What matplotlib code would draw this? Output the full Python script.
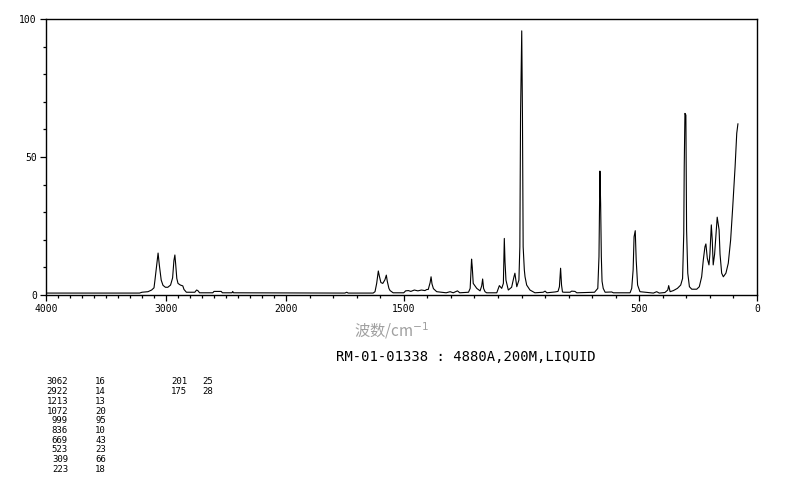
import numpy as np
import matplotlib
matplotlib.use("Agg")
import matplotlib.pyplot as plt
from matplotlib.ticker import FixedLocator

# traced spectrum: wavenumber (cm-1) and relative intensity
wavenumber = [
    4000, 3220, 3200, 3150, 3120, 3100, 3092, 3080, 3066, 3056, 3040, 3025,
    3005, 2985, 2962, 2945, 2934, 2926, 2920, 2910, 2900, 2880, 2860, 2850,
    2830, 2760, 2745, 2735, 2720, 2610, 2600, 2540, 2530, 2450, 2444, 2438,
    1750, 1742, 1736, 1630, 1622, 1615, 1608, 1604, 1597, 1589, 1580, 1574,
    1570, 1563, 1558, 1545, 1500, 1492, 1480, 1470, 1455, 1440, 1425, 1410,
    1402, 1396, 1388, 1384, 1380, 1374, 1360, 1320, 1303, 1290, 1272, 1262,
    1225, 1218, 1215, 1212, 1209, 1205, 1190, 1176, 1169, 1165, 1161, 1155,
    1148, 1105, 1094, 1084, 1077, 1073, 1070, 1066, 1056, 1042, 1032, 1028,
    1020, 1011, 1007, 1004, 999, 996, 993, 988, 985, 978, 964, 943,
    908, 900, 892, 858, 845, 839, 834, 830, 826, 820, 794, 787,
    773, 765, 690, 676, 671, 667, 664, 661, 658, 653, 645, 617,
    610, 539, 532, 526, 522, 517, 513, 507, 497, 440, 426, 415,
    391, 379, 375, 369, 355, 338, 324, 316, 311, 309, 306, 302,
    299, 294, 287, 277, 256, 245, 235, 228, 221, 217, 211, 204,
    200, 194, 190, 186, 180, 175, 169, 161, 157, 150, 143, 132,
    122, 112, 103, 93, 86, 81,
]
intensity = [
    0.7, 0.7, 1.0, 1.2, 1.8, 2.6, 5.4, 10.0, 15.2, 11.0, 5.4, 3.5,
    2.8, 2.8, 3.6, 6.2, 12.5, 14.5, 11.5, 6.0, 4.2, 3.6, 3.3, 2.0,
    1.0, 1.0, 1.8, 1.6, 0.8, 0.8, 1.3, 1.3, 0.8, 0.8, 1.3, 0.8,
    0.7, 1.0, 0.7, 0.7, 1.2, 4.2, 8.7, 7.0, 4.5, 4.2, 5.5, 7.2,
    5.0, 2.4, 1.6, 0.8, 0.8, 1.5, 1.6, 1.3, 1.8, 1.5, 1.8, 1.6,
    2.0, 2.0, 4.5, 6.6, 4.0, 2.3, 1.2, 0.8, 1.2, 0.8, 1.5, 0.8,
    1.0, 2.4, 7.9, 13.0, 10.0, 4.2, 2.4, 1.5, 3.3, 5.8, 2.4, 1.2,
    0.8, 0.8, 3.4, 2.4, 4.2, 20.5, 12.0, 5.4, 1.8, 2.8, 6.6, 7.9,
    3.0, 5.4, 17.5, 65.8, 95.7, 65.8, 17.5, 9.1, 6.6, 3.6, 1.8, 0.8,
    1.0, 1.4, 0.8, 1.1, 1.3, 3.0, 9.7, 3.6, 1.1, 1.0, 1.0, 1.4,
    1.3, 0.8, 1.0, 2.4, 13.9, 44.9, 33.2, 13.9, 5.0, 2.4, 1.0, 1.1,
    0.8, 0.8, 2.4, 9.1, 21.1, 23.3, 12.7, 3.6, 1.2, 0.7, 1.2, 0.7,
    0.9, 1.8, 3.4, 1.2, 1.6, 2.4, 3.6, 6.0, 22.3, 46.5, 65.8, 65.2,
    23.6, 7.9, 3.0, 2.1, 2.1, 3.0, 6.6, 12.7, 17.5, 18.5, 13.3, 10.9,
    14.8, 25.4, 19.9, 10.9, 14.8, 21.1, 28.2, 23.6, 14.8, 7.9, 6.6, 7.9,
    11.5, 19.9, 32.0, 46.5, 58.6, 62.0,
]

peak_wn = ["3062", "2922", "1213", "1072", "999", "836", "669", "523", "309", "223"]
peak_int = ["16", "14", "13", "20", "95", "10", "43", "23", "66", "18"]
peak_wn2 = ["201", "175"]
peak_int2 = ["25", "28"]

xticks_major = [4000, 3000, 2000, 1500, 500, 0]
yticks_major = [0, 50, 100]

W, H = 794, 482


# broken x axis: 4000-2000 compressed, 2000-0 about twice as wide
def fwd(x):
    x = np.asarray(x, dtype=float)
    return np.where(x <= 2000, x * 0.2355, 471 + (x - 2000) * 0.12)


def inv(u):
    u = np.asarray(u, dtype=float)
    return np.where(u <= 471, u / 0.2355, 2000 + (u - 471) / 0.12)


fig = plt.figure(figsize=(W / 100, H / 100), dpi=100)
ax = fig.add_axes([46 / W, 1 - 295 / H, (757 - 46) / W, (295 - 19) / H])
ax.set_xscale("function", functions=(fwd, inv))
ax.plot(wavenumber, intensity, color="black", lw=0.8)
ax.set_xlim(4000, 0)
ax.set_ylim(0, 100)

mono = "DejaVu Sans Mono"
ax.xaxis.set_major_locator(FixedLocator(xticks_major))
ax.xaxis.set_minor_locator(FixedLocator([v for v in range(0, 4001, 100) if v not in xticks_major]))
ax.set_xticklabels([str(v) for v in xticks_major], fontsize=7, family=mono)
ax.yaxis.set_major_locator(FixedLocator(yticks_major))
ax.yaxis.set_minor_locator(FixedLocator(list(range(10, 100, 10))))
ax.set_yticklabels([str(v) for v in yticks_major], fontsize=7, family=mono)
ax.tick_params(axis="both", which="major", direction="out", length=4.5, width=0.9, pad=2)
ax.tick_params(axis="both", which="minor", direction="out", length=2.2, width=0.9)
for s in ax.spines.values():
    s.set_linewidth(1.0)

fig.text(392 / W, 1 - 331 / H, "波数/cm$^{-1}$", color="#a0a0a0", fontsize=11,
         family=["Noto Sans CJK SC", "DejaVu Sans"], ha="center", va="center")
fig.text(466 / W, 1 - 357 / H, "RM-01-01338 : 4880A,200M,LIQUID", fontsize=10,
         family=mono, ha="center", va="center")

row0, dy = 382, 9.67
for i, (a, b) in enumerate(zip(peak_wn, peak_int)):
    y = 1 - (row0 + i * dy) / H
    fig.text(68 / W, y, a, fontsize=6.5, family=mono, ha="right", va="center")
    fig.text(106 / W, y, b, fontsize=6.5, family=mono, ha="right", va="center")
for i, (a, b) in enumerate(zip(peak_wn2, peak_int2)):
    y = 1 - (row0 + i * dy) / H
    fig.text(187 / W, y, a, fontsize=6.5, family=mono, ha="right", va="center")
    fig.text(213 / W, y, b, fontsize=6.5, family=mono, ha="right", va="center")

fig.savefig("out.png", dpi=100)
